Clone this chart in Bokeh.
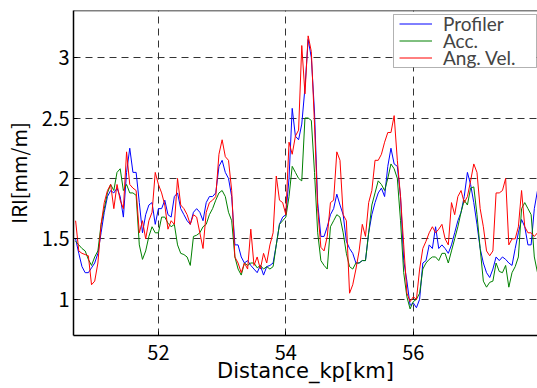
import numpy as np
from bokeh.plotting import figure
from bokeh.models import FixedTicker, Range1d, Legend, LegendItem, Span, BoxAnnotation
from bokeh.embed import file_html
from bokeh.resources import INLINE

# Distance samples (km), 0.05 km apart starting at 50.70
x_start = 50.70
x_step = 0.05

profiler = [
    1.50, 1.38, 1.27, 1.22, 1.22, 1.26, 1.30, 1.38, 1.55, 1.72,
    1.85, 1.90, 1.88, 1.92, 1.85, 1.68, 2.05, 2.25, 2.05, 2.05,
    1.80, 1.55, 1.70, 1.78, 1.80, 1.62, 1.75, 1.75, 1.82, 1.70,
    1.68, 1.85, 1.88, 1.75, 1.70, 1.65, 1.62, 1.72, 1.75, 1.72,
    1.65, 1.80, 1.85, 1.85, 1.88, 2.10, 2.15, 2.05, 2.00, 1.85,
    1.45, 1.45, 1.35, 1.30, 1.32, 1.28, 1.25, 1.22, 1.28, 1.20,
    1.27, 1.28, 1.30, 1.45, 1.62, 1.68, 1.70, 2.00, 2.58, 2.35,
    2.32, 2.45, 2.75, 3.15, 3.00, 2.55, 1.80, 1.52, 1.52, 1.60,
    1.70, 1.75, 1.87, 1.78, 1.70, 1.48, 1.42, 1.38, 1.30, 1.30,
    1.32, 1.32, 1.55, 1.70, 1.80, 1.88, 1.92, 1.85, 2.10, 2.25,
    2.12, 2.10, 1.85, 1.32, 1.15, 0.95, 0.97, 0.93, 1.00, 1.30,
    1.32, 1.45, 1.42, 1.60, 1.42, 1.45, 1.42, 1.38, 1.45, 1.55,
    1.65, 1.72, 1.85, 2.05, 1.95, 1.80, 1.62, 1.42, 1.30, 1.22,
    1.18, 1.25, 1.35, 1.32, 1.35, 1.33, 1.30, 1.28, 1.42, 1.55,
    1.66, 1.60, 1.45, 1.45, 1.75, 1.90,
]

acc = [
    1.48, 1.45, 1.42, 1.40, 1.33, 1.28, 1.35, 1.40, 1.62, 1.75,
    1.88, 1.95, 1.90, 2.05, 2.08, 1.90, 1.95, 1.88, 1.88, 1.86,
    1.45, 1.33, 1.40, 1.52, 1.60, 1.55, 1.55, 1.68, 1.68, 1.63,
    1.60, 1.62, 1.45, 1.38, 1.37, 1.35, 1.28, 1.52, 1.53, 1.55,
    1.60, 1.62, 1.70, 1.75, 1.82, 1.88, 1.90, 1.85, 1.72, 1.65,
    1.35, 1.25, 1.20, 1.30, 1.28, 1.30, 1.30, 1.26, 1.28, 1.25,
    1.27, 1.25, 1.27, 1.45, 1.62, 1.65, 1.68, 1.85, 2.10, 2.05,
    2.00, 1.98, 2.50, 2.50, 2.48, 2.05, 1.55, 1.32, 1.28, 1.25,
    1.60, 1.65, 1.70, 1.68, 1.55, 1.38, 1.27, 1.25, 1.30, 1.30,
    1.32, 1.32, 1.55, 1.78, 1.88, 1.98, 1.95, 1.90, 2.00, 2.12,
    2.08, 2.00, 1.65, 1.22, 1.02, 0.92, 0.98, 1.00, 1.05, 1.25,
    1.30, 1.33, 1.35, 1.35, 1.32, 1.38, 1.38, 1.30, 1.40, 1.50,
    1.60, 1.72, 1.82, 1.78, 1.92, 1.93, 1.70, 1.42, 1.15, 1.10,
    1.14, 1.15, 1.30, 1.23, 1.22, 1.28, 1.10, 1.22, 1.27, 1.35,
    1.75, 1.80, 1.75, 1.70, 1.35, 1.22,
]

ang_vel = [
    1.65, 1.40, 1.38, 1.37, 1.36, 1.12, 1.15, 1.30, 1.62, 1.80,
    1.90, 1.95, 1.75, 1.95, 1.82, 1.75, 2.22, 1.95, 1.92, 1.90,
    1.55, 1.65, 1.50, 1.65, 1.72, 2.05, 1.95, 1.88, 1.78, 1.58,
    1.65, 1.62, 2.00, 1.78, 1.75, 1.70, 1.62, 1.70, 1.68, 1.55,
    1.42, 1.72, 1.80, 1.82, 1.85, 2.20, 2.32, 2.18, 2.15, 1.90,
    1.35, 1.30, 1.22, 1.30, 1.25, 1.58, 1.28, 1.35, 1.25, 1.38,
    1.30, 1.45, 1.55, 2.02, 1.82, 1.80, 1.70, 2.30, 2.20, 2.35,
    2.40, 3.10, 2.70, 3.18, 3.05, 2.45, 1.75, 1.43, 1.40, 1.52,
    1.80, 1.82, 2.22, 2.15, 1.70, 1.65, 1.05, 1.12, 1.25, 1.40,
    1.62, 1.52, 1.80, 1.90, 2.15, 2.15, 2.20, 2.30, 2.38, 2.38,
    2.52, 2.15, 1.85, 1.45, 1.05, 0.98, 1.02, 1.00, 1.25, 1.42,
    1.48, 1.55, 1.60, 1.55, 1.58, 1.62, 1.50, 1.45, 1.80, 1.70,
    1.85, 1.90, 1.80, 1.85, 1.98, 2.12, 2.05, 1.75, 1.60, 1.40,
    1.36, 1.40, 1.88, 1.88, 1.90, 2.00, 1.45, 1.50, 1.50, 1.60,
    1.90, 1.60, 1.55, 1.55, 1.52, 1.55,
]

series_names = ["Profiler", "Acc.", "Ang. Vel."]
series_colors = ["#0000FF", "#008000", "#FF0000"]

x_ticks = [52, 54, 56, 58]
y_ticks = [1, 1.5, 2, 2.5, 3]
y_tick_labels = ["1", "1.5", "2", "2.5", "3"]

n = len(profiler)
dist = np.round(x_start + x_step * np.arange(n), 3)

p = figure(width=537, height=388,
           x_range=Range1d(50.667, 57.95), y_range=Range1d(0.70, 3.39),
           output_backend="svg", toolbar_location=None,
           min_border_left=73, min_border_right=0, min_border_top=10,
           min_border_bottom=53)

p.outline_line_color = None
p.add_layout(Span(location=3.39, dimension="width", line_color="black", line_width=1.5))

renderers = []
for ys, c in zip([profiler, acc, ang_vel], series_colors):
    r = p.line(dist[:len(ys)], ys, line_color=c, line_width=1)
    renderers.append(r)

# legend frame (screen units, measured from the frame's bottom-left corner)
p.add_layout(BoxAnnotation(left=320, right=463, top=321, bottom=268,
                           left_units="screen", right_units="screen",
                           top_units="screen", bottom_units="screen",
                           fill_color="white", fill_alpha=1.0,
                           line_color="black", line_width=1, level="annotation"))

# one legend row each, stacked tightly like the original
row_y = [300, 283, 266]
for nm, r, yy in zip(series_names, renderers, row_y):
    lg = Legend(items=[LegendItem(label=nm, renderers=[r])], location=(326, yy))
    lg.margin = 0
    lg.padding = 6
    lg.spacing = 0
    lg.glyph_width = 33
    lg.glyph_height = 17
    lg.label_height = 17
    lg.label_standoff = 11
    lg.label_text_font = "Lato"
    lg.label_text_font_size = "19px"
    lg.border_line_color = None
    lg.background_fill_alpha = 0.0
    p.add_layout(lg)

for ax in (p.xaxis[0], p.yaxis[0]):
    ax.axis_line_color = "black"
    ax.axis_line_width = 1.5
    ax.major_tick_in = 4
    ax.major_tick_out = 0
    ax.minor_tick_line_color = None
    ax.major_label_text_font = "Noto Sans CJK JP"
    ax.major_label_text_font_size = "20px"
    ax.major_label_text_color = "black"
    ax.axis_label_text_font_size = "20px"
    ax.axis_label_text_font_style = "normal"
    ax.axis_label_text_color = "black"

p.xaxis.axis_label_text_font = "DejaVu Sans"
p.xaxis.axis_label_text_font_size = "21px"
p.yaxis.axis_label_text_font = "Noto Sans CJK JP"

p.xaxis.ticker = FixedTicker(ticks=x_ticks)
p.yaxis.ticker = FixedTicker(ticks=y_ticks)
p.yaxis.major_label_overrides = {t: s for t, s in zip(y_ticks, y_tick_labels)}
p.xaxis.axis_label = "Distance_kp[km]"
p.yaxis.axis_label = "IRI[mm/m]"
p.xaxis.major_label_standoff = 9
p.xaxis.axis_label_standoff = -4
p.yaxis.major_label_standoff = 4
p.yaxis.axis_label_standoff = 6

for g in (p.xgrid[0], p.ygrid[0]):
    g.grid_line_color = "#333333"
    g.grid_line_dash = "7 5"
    g.grid_line_width = 1

open("out.html", "w").write(file_html(p, INLINE))
